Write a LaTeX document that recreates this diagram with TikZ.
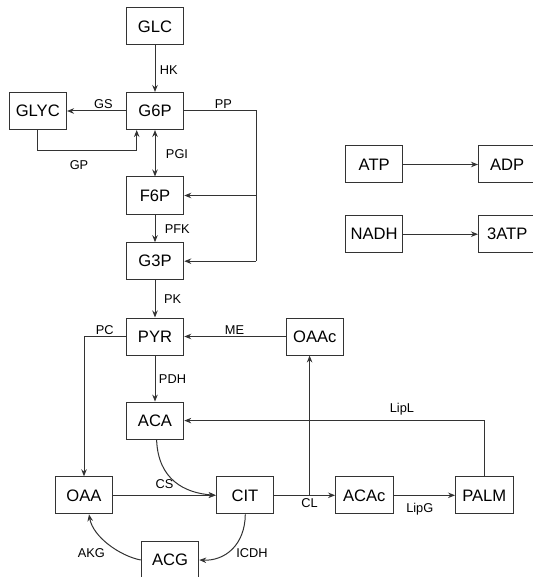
\documentclass[tikz,border=0pt]{standalone}
\usepackage{fontspec}
\setmainfont{Liberation Sans}
\usetikzlibrary{arrows.meta}
\definecolor{ln}{HTML}{333333}
\tikzset{
  box/.style={draw=ln, line width=1pt, minimum width=57.5pt, minimum height=37pt, inner sep=0pt, font=\fontsize{16.6}{18}\selectfont, text=black},
  lbl/.style={inner sep=0pt, font=\fontsize{12.8}{14}\selectfont, text=black, text height=9.2pt, text depth=0pt},
  arr/.style={draw=ln, line width=1pt, -{Stealth[length=7pt,width=5.5pt]}},
  dbl/.style={draw=ln, line width=1pt, {Stealth[length=7pt,width=5.5pt]}-{Stealth[length=7pt,width=5.5pt]}},
  ln/.style={draw=ln, line width=1pt}
}
\begin{document}
\begin{tikzpicture}[x=1pt,y=-1pt]
\useasboundingbox (0,0) rectangle (532,577);
% boxes
\node[box] (GLC)  at (155,26.3)  {GLC};
\node[box] (G6P)  at (155,111)   {G6P};
\node[box] (GLYC) at (37.8,111)  {GLYC};
\node[box] (F6P)  at (155,195.5) {F6P};
\node[box] (G3P)  at (155,261.2) {G3P};
\node[box] (PYR)  at (155,336.5) {PYR};
\node[box] (OAAc) at (314.8,336.5) {OAAc};
\node[box] (ACA)  at (155,420.6) {ACA};
\node[box] (OAA)  at (84,495.3)  {OAA};
\node[box] (CIT)  at (245,495.3) {CIT};
\node[box] (ACAc) at (364.3,495.3) {ACAc};
\node[box] (PALM) at (484.3,495.3) {PALM};
\node[box] (ACG)  at (170,560)   {ACG};
\node[box] (ATP)  at (374.2,164.5) {ATP};
\node[box] (ADP)  at (507.2,164.5) {ADP};
\node[box] (NADH) at (374.2,234.2) {NADH};
\node[box] (3ATP) at (507.2,234.2) {3ATP};
% helper coordinates
\coordinate (ppB) at (256,261.2);
\coordinate (gpC) at (136.7,150.3);
\coordinate (clJ) at (309.6,495.3);
% connectors
\draw[arr] (GLC) -- (G6P);
\draw[arr] (G6P) -- (GLYC);
\draw[arr] (GLYC.south) |- (gpC) -- (gpC |- G6P.south);
\draw[ln] (G6P.east) -| (ppB);
\draw[arr] (ppB) -- (G3P.east);
\draw[arr] (ppB |- F6P.east) -- (F6P.east);
\draw[dbl] (G6P) -- (F6P);
\draw[arr] (F6P) -- (G3P);
\draw[arr] (G3P) -- (PYR);
\draw[arr] (PYR.west) -| (OAA.north);
\draw[arr] (OAAc) -- (PYR);
\draw[arr] (PYR) -- (ACA);
\draw[arr] ([xshift=1.6pt]ACA.south) .. controls (158,480) and (185,493) .. (CIT.west);
\draw[arr] (OAA) -- (CIT);
\draw[arr] (CIT) -- (ACAc);
\draw[arr] (clJ) -- (clJ |- OAAc.south);
\draw[arr] (ACAc) -- (PALM);
\draw[arr] (PALM.north) |- (ACA.east);
\draw[arr] ([xshift=0.3pt]CIT.south) .. controls (245,545) and (225,561) .. (ACG.east);
\draw[arr] (ACG.west) .. controls (120,556) and (93,537) .. ([xshift=5pt]OAA.south);
\draw[arr] (ATP) -- (ADP);
\draw[arr] (NADH) -- (3ATP);
% labels
\node[lbl] (lHK)   at (168.8,70)   {HK};
\node[lbl] (lGS)   at (103.3,104)  {GS};
\node[lbl] (lPP)   at (223.3,104)  {PP};
\node[lbl] (lPGI)  at (177,154)    {PGI};
\node[lbl] (lGP)   at (79,165)     {GP};
\node[lbl] (lPFK)  at (177.3,229)  {PFK};
\node[lbl] (lPK)   at (172.7,299.3) {PK};
\node[lbl] (lPC)   at (104.8,329.6) {PC};
\node[lbl] (lME)   at (234.5,329.6) {ME};
\node[lbl] (lPDH)  at (172.5,379.2) {PDH};
\node[lbl] (lLipL) at (401.9,407.5) {LipL};
\node[lbl] (lCS)   at (164.4,484)  {CS};
\node[lbl] (lCL)   at (309.6,503.3) {CL};
\node[lbl] (lLipG) at (419.8,507.9) {LipG};
\node[lbl] (lICDH) at (252,553.2)  {ICDH};
\node[lbl] (lAKG)  at (91.4,553.2) {AKG};
\end{tikzpicture}
\end{document}
